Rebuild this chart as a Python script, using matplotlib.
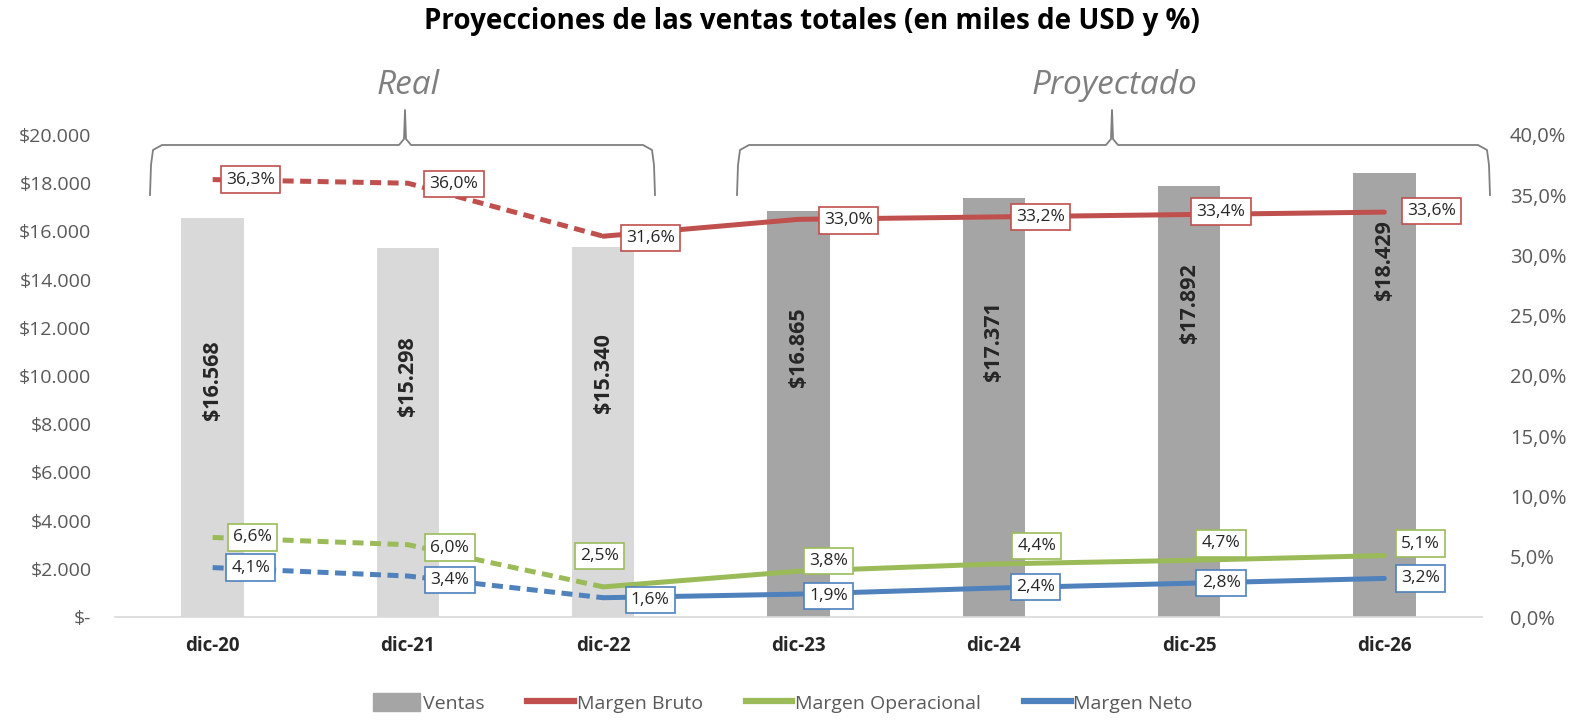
import matplotlib
matplotlib.use("Agg")
import matplotlib.pyplot as plt
from matplotlib.lines import Line2D
from matplotlib.patches import Patch

plt.rcParams['font.family'] = ['Open Sans', 'DejaVu Sans']

# ---- data ----
categories = ["dic-20", "dic-21", "dic-22", "dic-23", "dic-24", "dic-25", "dic-26"]
ventas = [16568, 15298, 15340, 16865, 17371, 17892, 18429]
margen_bruto = [36.3, 36.0, 31.6, 33.0, 33.2, 33.4, 33.6]
margen_operacional = [6.6, 6.0, 2.5, 3.8, 4.4, 4.7, 5.1]
margen_neto = [4.1, 3.4, 1.6, 1.9, 2.4, 2.8, 3.2]
left_ticks = [0, 2000, 4000, 6000, 8000, 10000, 12000, 14000, 16000, 18000, 20000]
right_ticks = [0, 5, 10, 15, 20, 25, 30, 35, 40]
n_real = 3  # first 3 periods are actual

# ---- styles / placement ----
C_RED = "#C0504D"
C_GREEN = "#9BBB59"
C_BLUE = "#4F81BD"
C_REAL = "#D9D9D9"
C_PROJ = "#A5A5A5"
TXT = "#595959"

# label offsets in pixels (dx, dy) per point
off_red = [(38, 0), (46, -1), (47, -2), (50, -1), (47, 0), (32, 3), (47, 1)]
off_green = [(40, 0), (42, -3), (-4, 31), (30, 10), (43, 18), (32, 17), (36, 12)]
off_blue = [(38, 0), (42, -4), (47, -2), (30, -2), (42, 1), (32, 0), (36, 0)]
bar_label_y = [9830, 10000, 10120, 11200, 11450, 13030, 14810]

W, H = 1574, 721
fig = plt.figure(figsize=(W / 100, H / 100), dpi=100)
ax = fig.add_axes([115 / W, 1 - 617 / H, (1482 - 115) / W, (617 - 135) / H])
ax2 = ax.twinx()

x = list(range(len(categories)))
bar_colors = [C_REAL if i < n_real else C_PROJ for i in x]
ax.bar(x, ventas, width=0.32, color=bar_colors, zorder=1)
for i, v in enumerate(ventas):
    s = "${:,}".format(v).replace(",", ".")
    ax.text(i, bar_label_y[i], s, rotation=90, ha="center", va="center",
            fontsize=15.5, fontweight="bold", color="#262626", zorder=2)

ax.set_xlim(-0.5, len(categories) - 0.5)
ax.set_ylim(0, 20000)
ax.set_yticks(left_ticks)
ax.set_yticklabels(["$-" if t == 0 else "${:,}".format(t).replace(",", ".") for t in left_ticks])
ax2.set_ylim(0, 40)
ax2.set_yticks(right_ticks)
ax2.set_yticklabels(["{:.1f}%".format(t).replace(".", ",") for t in right_ticks])
ax.set_xticks(x)
ax.set_xticklabels(categories, fontweight="bold", color="#262626", fontsize=13.5)
ax.tick_params(axis="x", length=0, pad=14)
ax.tick_params(axis="y", length=0, labelsize=14, labelcolor=TXT, pad=17)
ax2.tick_params(axis="y", length=0, labelsize=14.5, labelcolor=TXT, pad=20)
for a in (ax, ax2):
    for sp in a.spines.values():
        sp.set_visible(False)
ax.spines["bottom"].set_visible(True)
ax.spines["bottom"].set_color("#D9D9D9")
ax.spines["bottom"].set_linewidth(1.2)

ax2.set_zorder(ax.get_zorder() + 1)
ax2.patch.set_visible(False)

LW = 3.6
for vals, col, offs in [(margen_bruto, C_RED, off_red),
                        (margen_operacional, C_GREEN, off_green),
                        (margen_neto, C_BLUE, off_blue)]:
    ax2.plot(x[:n_real], vals[:n_real], color=col, lw=LW, ls=(0, (2.2, 1.3)),
             solid_capstyle="round", dash_capstyle="butt", zorder=3)
    ax2.plot(x[n_real - 1:], vals[n_real - 1:], color=col, lw=LW,
             solid_capstyle="round", zorder=3)
    for i, v in enumerate(vals):
        ax2.annotate("{:.1f}%".format(v).replace(".", ","), (i, v),
                     xytext=offs[i], textcoords="offset pixels",
                     ha="center", va="center", fontsize=12.5, color="#262626",
                     bbox=dict(boxstyle="square,pad=0.3", fc="white", ec=col, lw=1.2),
                     zorder=5)

# title
fig.text(812 / W, 1 - 22 / H, "Proyecciones de las ventas totales (en miles de USD y %)",
         ha="center", va="center", fontsize=20, fontweight="bold", color="black")

# braces
def brace(x0, x1, xm, ytop, ybot, ytip):
    r = 12
    xs = [x0, x0 + 1, x0 + 3, x0 + r, xm - 6, xm - 1, xm, xm + 1, xm + 6,
          x1 - r, x1 - 3, x1 - 1, x1]
    ys = [ybot, ytop + 20, ytop + 5, ytop, ytop, ytop - 6, ytip, ytop - 6, ytop,
          ytop, ytop + 5, ytop + 20, ybot]
    fig.add_artist(Line2D([a / W for a in xs], [1 - b / H for b in ys],
                          transform=fig.transFigure, color="#7F7F7F", lw=1.3))

brace(150, 655, 405, 145, 195, 110)
brace(737, 1490, 1112, 145, 195, 110)
fig.text(408 / W, 1 - 85 / H, "Real", ha="center", va="center", fontsize=24,
         style="italic", color="#7F7F7F")
fig.text(1114 / W, 1 - 85 / H, "Proyectado", ha="center", va="center", fontsize=24,
         style="italic", color="#7F7F7F")

# legend
handles = [Patch(color=C_PROJ, label="Ventas"),
           Line2D([], [], color=C_RED, lw=4.5, label="Margen Bruto"),
           Line2D([], [], color=C_GREEN, lw=4.5, label="Margen Operacional"),
           Line2D([], [], color=C_BLUE, lw=4.5, label="Margen Neto")]
fig.legend(handles=handles, loc="center", bbox_to_anchor=(783 / W, 1 - 703 / H), ncol=4,
           frameon=False, fontsize=14, labelcolor=TXT, handlelength=2.4,
           handleheight=1.0, handletextpad=0.15, columnspacing=2.2)

fig.savefig("out.png", dpi=100)
